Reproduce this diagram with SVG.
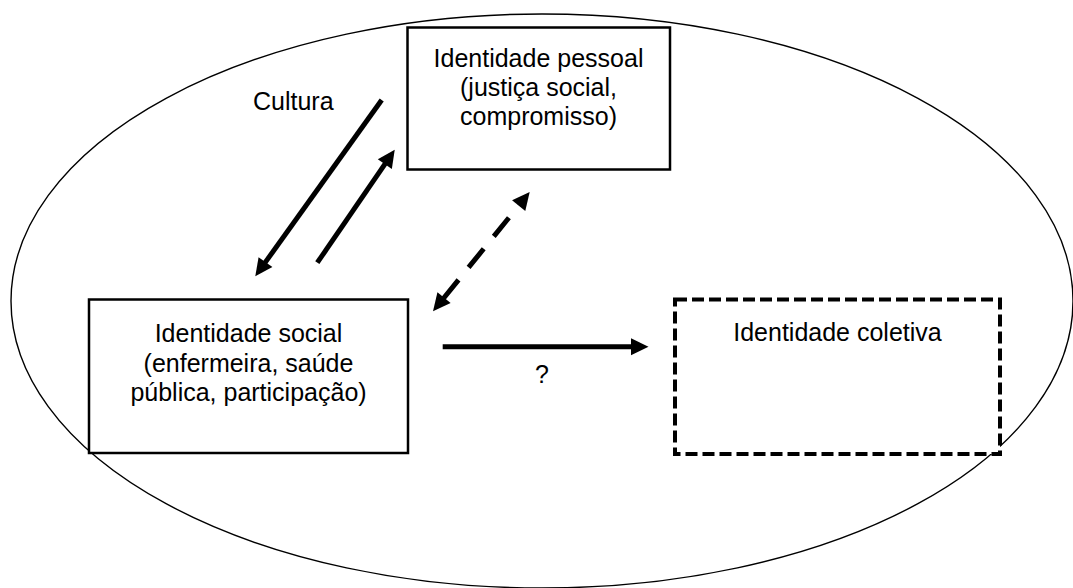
<svg xmlns="http://www.w3.org/2000/svg" width="1073" height="588" viewBox="0 0 1073 588">
  <style>
    .bg { fill: #ffffff; }
    .frame { fill: none; stroke: #000; stroke-width: 1.4; }
    .box { fill: #ffffff; stroke: #000; stroke-width: 2.5; }
    .box-dashed { fill: #ffffff; stroke: #000; stroke-width: 4; stroke-dasharray: 12 5; }
    .label { font-family: "Liberation Sans", Arial, sans-serif; font-size: 25px; fill: #000; }
    .mid { text-anchor: middle; }
    .link { stroke: #000; stroke-width: 5; fill: none; }
    .link-dashed { stroke: #000; stroke-width: 5; fill: none; stroke-dasharray: 24 16; }
  </style>
  <defs>
    <marker id="head" markerUnits="userSpaceOnUse" orient="auto-start-reverse" markerWidth="20" markerHeight="20" refX="1" refY="0" overflow="visible">
      <path d="M0,-8.5 L17.5,0 L0,8.5 Z" fill="#000"/>
    </marker>
  </defs>

  <rect class="bg" x="0" y="0" width="1073" height="588"/>

  <!-- surrounding boundary -->
  <ellipse class="frame" cx="542" cy="301" rx="531" ry="287"/>

  <!-- connectors -->
  <g id="connectors">
    <line class="link" x1="381.7" y1="100" x2="264.9" y2="262.9" marker-end="url(#head)"/>
    <line class="link" x1="317.3" y1="262.7" x2="385.4" y2="163.3" marker-end="url(#head)"/>
    <line class="link-dashed" x1="443.4" y1="298.5" x2="519.3" y2="204.9" marker-start="url(#head)" marker-end="url(#head)"/>
    <line class="link" x1="442.7" y1="346.7" x2="632" y2="346.7" marker-end="url(#head)"/>
  </g>

  <!-- edge labels -->
  <text class="label" x="253" y="110">Cultura</text>
  <text class="label mid" x="542" y="383">?</text>

  <g id="identidade-pessoal">
    <rect class="box" x="407.5" y="27.5" width="262.5" height="142"/>
    <text class="label mid" x="538.5" y="67">Identidade pessoal</text>
    <text class="label mid" x="538.5" y="96">(justiça social,</text>
    <text class="label mid" x="538.5" y="125">compromisso)</text>
  </g>

  <g id="identidade-social">
    <rect class="box" x="89" y="299.5" width="319" height="153.5"/>
    <text class="label mid" x="248.5" y="342">Identidade social</text>
    <text class="label mid" x="248.5" y="371.5">(enfermeira, saúde</text>
    <text class="label mid" x="248.5" y="401">pública, participação)</text>
  </g>

  <g id="identidade-coletiva">
    <rect class="box-dashed" x="675" y="299.5" width="325" height="154.5"/>
    <text class="label mid" x="837.5" y="341">Identidade coletiva</text>
  </g>
</svg>
